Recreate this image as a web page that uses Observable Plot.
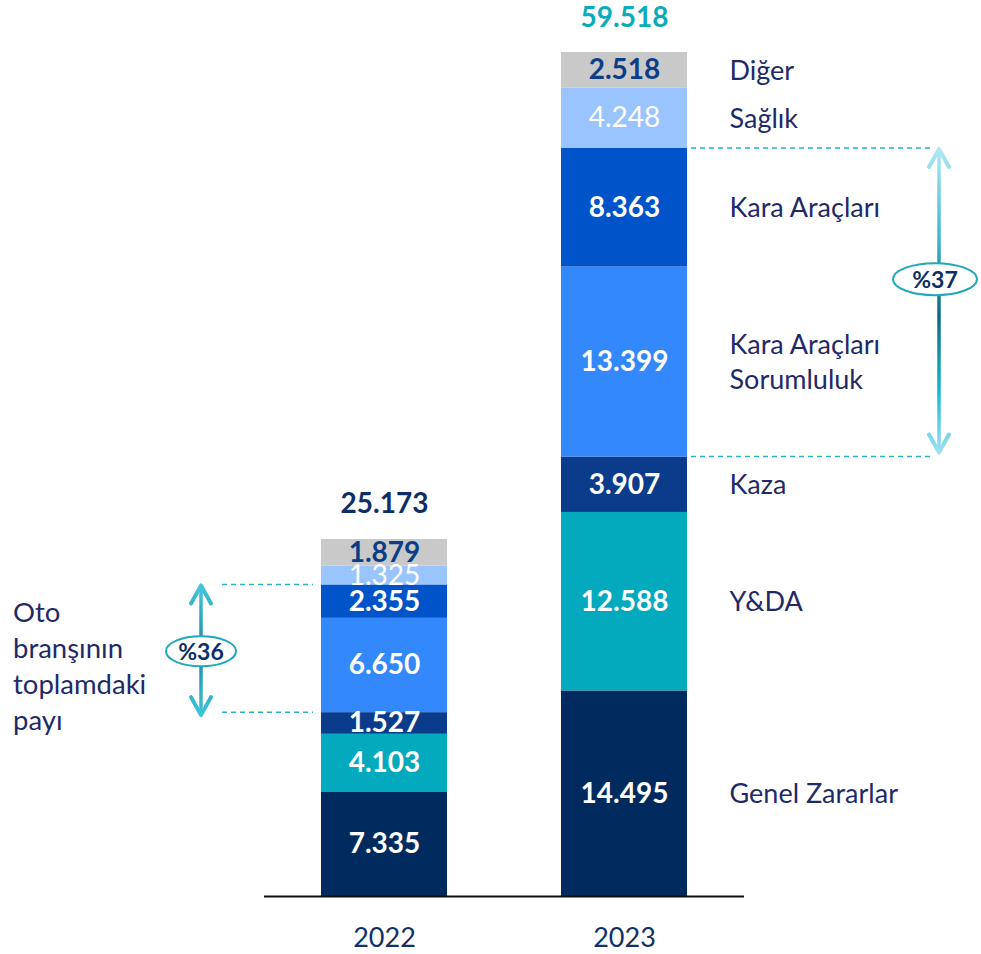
<!DOCTYPE html>
<html><head><meta charset="utf-8">
<script src="https://cdn.jsdelivr.net/npm/d3@7"></script>
<script src="https://cdn.jsdelivr.net/npm/@observablehq/plot@0.6"></script>
<style>body{margin:0;background:#fff} #chart{width:981px;height:954px}</style>
</head><body><div id="chart"></div>
<script>
// ---- data ----
const years = ["2022", "2023"];
const categories = ["Genel Zararlar", "Y&DA", "Kaza", "Kara Araçları Sorumluluk", "Kara Araçları", "Sağlık", "Diğer"];
const categoryLabels = ["Genel Zararlar", "Y&DA", "Kaza", "Kara Araçları\nSorumluluk", "Kara Araçları", "Sağlık", "Diğer"];
const values2022 = [7335, 4103, 1527, 6650, 2355, 1325, 1879];
const values2023 = [14495, 12588, 3907, 13399, 8363, 4248, 2518];
const valueLabels2022 = ["7.335", "4.103", "1.527", "6.650", "2.355", "1.325", "1.879"];
const valueLabels2023 = ["14.495", "12.588", "3.907", "13.399", "8.363", "4.248", "2.518"];
const totals = [25173, 59518];
const totalLabels = ["25.173", "59.518"];
const shareLabels = ["%36", "%37"];
const sideNote = ["Oto", "branşının", "toplamdaki", "payı"];
const shareFrom = "Kara Araçları Sorumluluk";
const shareTo = "Kara Araçları";

// ---- styles ----
const colors = ["#012a5e", "#03a9bd", "#0a3c8b", "#3388fc", "#0053c9", "#9ac4fe", "#c9c9c9"];
const labelStyle = ["bw", "bw", "bw", "bw", "bw", "wn", "nb"]; // bold white / white normal / navy bold
const navy = "#0e2f66";
const textNavy = "#1f2a68";
const teal = "#0aabbb";
const font = "Lato";

// ---- tables ----
const allValues = [values2022, values2023];
const allLabels = [valueLabels2022, valueLabels2023];
const rows = [];
years.forEach((yr, i) => categories.forEach((c, j) => rows.push({
  year: yr, category: c, value: allValues[i][j], label: allLabels[i][j],
  style: labelStyle[j], catLabel: categoryLabels[j]
})));
const rows2023 = rows.filter(d => d.year === years[1]);
const totalRows = years.map((yr, i) => ({year: yr, total: totals[i], label: totalLabels[i]}));

const iFrom = categories.indexOf(shareFrom);
const iTo = categories.indexOf(shareTo);

function valueText(style, weight, fill) {
  return Plot.text(rows, Plot.stackY({
    x: "year", y: "value", z: "category",
    text: d => d.style === style ? d.label : null,
    fill, fontWeight: weight, fontSize: 28, fontFamily: font
  }));
}

function annotations(index, scales, values, dimensions) {
  const x = scales.x, y = scales.y;
  const bw = typeof x.bandwidth === "function" ? x.bandwidth() : scales.scales.x.bandwidth;
  const g = d3.create("svg:g");
  const defs = g.append("defs");
  years.forEach((yr, i) => {
    const vals = allValues[i];
    const lo = d3.sum(vals.slice(0, iFrom));
    const hi = d3.sum(vals.slice(0, iTo + 1));
    const yLo = y(lo), yHi = y(hi);
    const left = x(yr), right = left + bw;
    const mid = (yLo + yHi) / 2;
    let dx1, dx2, ax, ex, ey, rx, ry, tTop, tBot, stops;
    if (i === 0) {
      dx1 = left - 99; dx2 = left - 8; ax = left - 120; ex = ax; ey = mid + 3; rx = 35; ry = 15;
      tTop = yHi + 1; tBot = yLo + 3;
      stops = [[0, "#45c6df"], [0.5, "#1a8aa2"], [1, "#3fc4de"]];
    } else {
      dx1 = right + 4; dx2 = right + 247; ax = right + 252; ex = ax - 4; ey = mid - 23; rx = 42; ry = 16;
      tTop = yHi + 1; tBot = yLo - 4;
      stops = [[0, "#b0e8f3"], [0.3, "#3ab6cc"], [0.55, "#10687e"], [0.8, "#14b8d4"], [1, "#a0e2f0"]];
    }
    const gid = "arrowGrad" + i;
    const grad = defs.append("linearGradient").attr("id", gid)
      .attr("gradientUnits", "userSpaceOnUse")
      .attr("x1", ax).attr("x2", ax).attr("y1", tTop).attr("y2", tBot);
    stops.forEach(([o, c]) => grad.append("stop").attr("offset", o).attr("stop-color", c));
    // dashed guides
    [yHi, yLo].forEach(yy => g.append("line")
      .attr("x1", dx1).attr("x2", dx2).attr("y1", yy).attr("y2", yy)
      .attr("stroke", "#25b3c9").attr("stroke-width", 1.5).attr("stroke-dasharray", "5,4"));
    // arrow shaft
    g.append("line").attr("x1", ax).attr("x2", ax).attr("y1", tTop + 2).attr("y2", tBot - 2)
      .attr("stroke", `url(#${gid})`).attr("stroke-width", 3.5);
    // arrow heads
    const hw = 10, hh = 18;
    [[tTop, 1], [tBot, -1]].forEach(([ty, s]) => g.append("polyline")
      .attr("points", `${ax - hw},${ty + s * hh} ${ax},${ty} ${ax + hw},${ty + s * hh}`)
      .attr("fill", "none").attr("stroke", `url(#${gid})`).attr("stroke-width", 4)
      .attr("stroke-linecap", "round").attr("stroke-linejoin", "round"));
    // ellipse
    g.append("ellipse").attr("cx", ex).attr("cy", ey).attr("rx", rx).attr("ry", ry)
      .attr("fill", "white").attr("stroke", "#1fa8bb").attr("stroke-width", 2);
    g.append("text").attr("x", ex).attr("y", ey).attr("dy", "0.36em")
      .attr("text-anchor", "middle").attr("font-family", font).attr("font-weight", "bold")
      .attr("font-size", 23).attr("fill", navy).text(shareLabels[i]);
    if (i === 0) {
      const t = g.append("text").attr("font-family", font).attr("font-size", 27.5)
        .attr("fill", textNavy).attr("text-anchor", "start");
      sideNote.forEach((s, k) => t.append("tspan").attr("x", left - 308)
        .attr("y", mid - 26 + k * 36).text(s));
    }
  });
  return g.node();
}

const chart = Plot.plot({
  width: 981, height: 954,
  marginLeft: 264, marginRight: 237, marginTop: 52, marginBottom: 58,
  x: {domain: years, paddingInner: 0.477, paddingOuter: 0.2345, axis: null, label: null},
  y: {domain: [0, d3.max(totals)], axis: null},
  color: {domain: categories, range: colors},
  style: {fontFamily: font, background: "white", color: navy},
  marks: [
    Plot.barY(rows, Plot.stackY({x: "year", y: "value", z: "category", fill: "category"})),
    Plot.ruleY([0], {stroke: "#111", strokeWidth: 2}),
    Plot.axisX({tickSize: 0, tickPadding: 31, fontSize: 27, fill: "#12306a", fontFamily: font, label: null}),
    valueText("bw", "bold", "white"),
    valueText("wn", "normal", "white"),
    valueText("nb", "bold", "#0c3d87"),
    Plot.text([totalRows[0]], {x: "year", y: "total", text: "label", dy: -36, fill: navy, fontWeight: "bold", fontSize: 28, fontFamily: font}),
    Plot.text([totalRows[1]], {x: "year", y: "total", text: "label", dy: -34, fill: teal, fontWeight: "bold", fontSize: 28, fontFamily: font}),
    Plot.text(rows2023, Plot.stackY({
      x: "year", y: "value", z: "category", text: "catLabel", textAnchor: "start",
      dx: 105, dy: -2, fill: textNavy, fontSize: 27, lineHeight: 1.3, fontFamily: font
    })),
    annotations
  ]
});
document.getElementById("chart").appendChild(chart);
</script>
</body></html>
